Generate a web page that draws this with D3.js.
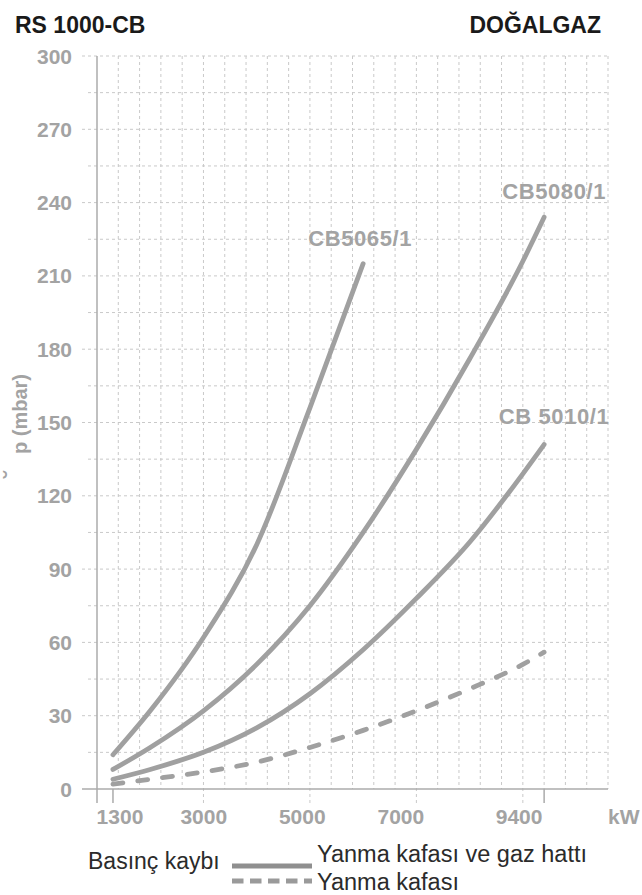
<!DOCTYPE html>
<html>
<head>
<meta charset="utf-8">
<script src="https://cdn.jsdelivr.net/npm/d3@7"></script>
<style>
  html, body { margin: 0; padding: 0; background: #fff; }
  svg { display: block; font-family: "Liberation Sans", Arial, Helvetica, sans-serif; }
</style>
</head>
<body>
<svg id="chart" width="642" height="895"></svg>
<script>
// ---- data ----
const title = "RS 1000-CB";
const fuel = "DOĞALGAZ";
const yTicks = [0, 30, 60, 90, 120, 150, 180, 210, 240, 270, 300];
const xTicks = [1300, 3000, 5000, 7000, 9400];
const xUnit = "kW";
const yTitle = "p (mbar)";

const cb5065Kw   = [1300, 2000, 3000, 4000, 5000, 6000];
const cb5065Mbar = [14, 32, 62, 100, 156, 215];

const cb5080Kw   = [1300, 2000, 3000, 4000, 5000, 6000, 7000, 8000, 9000, 9400];
const cb5080Mbar = [8, 17, 32, 51, 75, 105, 139, 176, 216, 234];

const cb5010Kw   = [1300, 2000, 3000, 4000, 5000, 6000, 7000, 8000, 9000, 9400];
const cb5010Mbar = [4, 8, 15, 25, 39, 57, 78, 101, 129, 141];

const headKw     = [1300, 2000, 3000, 4000, 5000, 6000, 7000, 8000, 9000, 9400];
const headMbar   = [2, 4, 7, 11, 17, 24, 32, 41, 51, 56];

const seriesNames = ["CB5065/1", "CB5080/1", "CB 5010/1"];
const legendTitle = "Basınç kaybı";
const legendItems = ["Yanma kafası ve gaz hattı", "Yanma kafası"];

// ---- layout ----
const svg = d3.select("#chart");
const x = d3.scaleLinear().domain([1000, 10600]).range([97, 608]);
const y = d3.scaleLinear().domain([0, 300]).range([789, 56]);
const xLabel = d3.scaleLinear().domain([1300, 9400]).range([x(1300) + 7, x(9400) - 25]);

const gridColor = "#c9c9c9";
const axisColor = "#ababab";
const labelColor = "#a3a3a3";
const lineColor = "#a0a0a0";

// horizontal grid every 15 mbar
const hGrid = d3.range(15, 301, 15);
svg.append("g").selectAll("line").data(hGrid).join("line")
  .attr("x1", d => d % 30 === 0 ? 82 : 88)
  .attr("x2", x(10600))
  .attr("y1", d => y(d)).attr("y2", d => y(d))
  .attr("stroke", gridColor).attr("stroke-width", 1)
  .attr("stroke-dasharray", "3,3");

// vertical grid every 400 kW
const vGrid = d3.range(1400, 10601, 400);
svg.append("g").selectAll("line").data(vGrid).join("line")
  .attr("x1", d => x(d)).attr("x2", d => x(d))
  .attr("y1", y(300))
  .attr("y2", d => (d - 1000) % 2000 === 0 ? 803 : y(0))
  .attr("stroke", gridColor).attr("stroke-width", 1)
  .attr("stroke-dasharray", "3,3");

// axes
svg.append("line").attr("x1", x(1000)).attr("x2", x(1000))
  .attr("y1", y(300)).attr("y2", 803)
  .attr("stroke", axisColor).attr("stroke-width", 1.5);
svg.append("line").attr("x1", 82).attr("x2", x(10600))
  .attr("y1", y(0)).attr("y2", y(0))
  .attr("stroke", axisColor).attr("stroke-width", 1.5);
svg.append("g").selectAll("line").data([1300, 9400]).join("line")
  .attr("x1", d => x(d)).attr("x2", d => x(d))
  .attr("y1", y(0)).attr("y2", 803)
  .attr("stroke", axisColor).attr("stroke-width", 1.5);

// y tick labels
svg.append("g").selectAll("text").data(yTicks).join("text")
  .attr("x", 72).attr("y", d => y(d) + 7.5)
  .attr("text-anchor", "end")
  .attr("font-size", 21).attr("font-weight", "bold")
  .attr("fill", labelColor)
  .text(d => d);

// x tick labels
svg.append("g").selectAll("text").data(xTicks).join("text")
  .attr("x", d => xLabel(d)).attr("y", 824)
  .attr("text-anchor", "middle")
  .attr("font-size", 21).attr("font-weight", "bold")
  .attr("fill", labelColor)
  .text(d => d);
svg.append("text").attr("x", 608).attr("y", 824)
  .attr("font-size", 21).attr("font-weight", "bold")
  .attr("fill", labelColor).text(xUnit);

// y title
svg.append("text")
  .attr("transform", "translate(27,414) rotate(-90)")
  .attr("text-anchor", "middle")
  .attr("font-size", 20).attr("font-weight", "bold")
  .attr("fill", labelColor).text(yTitle);
svg.append("text")
  .attr("transform", "translate(21,474) rotate(-90)")
  .attr("text-anchor", "middle")
  .attr("font-size", 24).attr("font-weight", "bold")
  .attr("fill", labelColor).text("˘");

// titles
svg.append("text").attr("x", 15).attr("y", 33)
  .attr("font-size", 23).attr("font-weight", "bold")
  .attr("fill", "#1a1a1a").text(title);
svg.append("text").attr("x", 601).attr("y", 33)
  .attr("text-anchor", "end")
  .attr("font-size", 23).attr("font-weight", "bold")
  .attr("fill", "#1a1a1a").text(fuel);

// curves
const line = d3.line().x(d => x(d[0])).y(d => y(d[1])).curve(d3.curveMonotoneX);
const zip = (a, b) => a.map((v, i) => [v, b[i]]);
const curves = [
  { pts: zip(cb5065Kw, cb5065Mbar), dash: null },
  { pts: zip(cb5080Kw, cb5080Mbar), dash: null },
  { pts: zip(cb5010Kw, cb5010Mbar), dash: null },
  { pts: zip(headKw, headMbar), dash: "10,15" }
];
svg.append("g").selectAll("path").data(curves).join("path")
  .attr("d", d => line(d.pts))
  .attr("fill", "none")
  .attr("stroke", lineColor)
  .attr("stroke-width", 4.8)
  .attr("stroke-linecap", "round")
  .attr("stroke-linejoin", "round")
  .attr("stroke-dasharray", d => d.dash);

// curve labels
const labelInfo = [
  { name: seriesNames[0], kw: cb5065Kw[cb5065Kw.length - 1], v: cb5065Mbar[cb5065Mbar.length - 1], dx: -3, dy: -18 },
  { name: seriesNames[1], kw: cb5080Kw[cb5080Kw.length - 1], v: cb5080Mbar[cb5080Mbar.length - 1], dx: 10, dy: -18 },
  { name: seriesNames[2], kw: cb5010Kw[cb5010Kw.length - 1], v: cb5010Mbar[cb5010Mbar.length - 1], dx: 10, dy: -20 }
];
svg.append("g").selectAll("text").data(labelInfo).join("text")
  .attr("x", d => x(d.kw) + d.dx).attr("y", d => y(d.v) + d.dy)
  .attr("text-anchor", "middle")
  .attr("font-size", 22).attr("font-weight", "bold")
  .attr("letter-spacing", 0.6)
  .attr("fill", labelColor)
  .text(d => d.name);

// legend
svg.append("text").attr("x", 88).attr("y", 869)
  .attr("font-size", 23).attr("fill", "#2b2b2b").text(legendTitle);
svg.append("line").attr("x1", 232).attr("x2", 312).attr("y1", 866).attr("y2", 866)
  .attr("stroke", "#8f8f8f").attr("stroke-width", 5);
svg.append("line").attr("x1", 232).attr("x2", 312).attr("y1", 881).attr("y2", 881)
  .attr("stroke", "#9a9a9a").attr("stroke-width", 5).attr("stroke-dasharray", "11.5,6.5");
svg.append("g").selectAll("text").data(legendItems).join("text")
  .attr("x", 317).attr("y", (d, i) => 862 + i * 28)
  .attr("font-size", 23.5).attr("fill", "#2b2b2b")
  .text(d => d);
</script>
</body>
</html>
